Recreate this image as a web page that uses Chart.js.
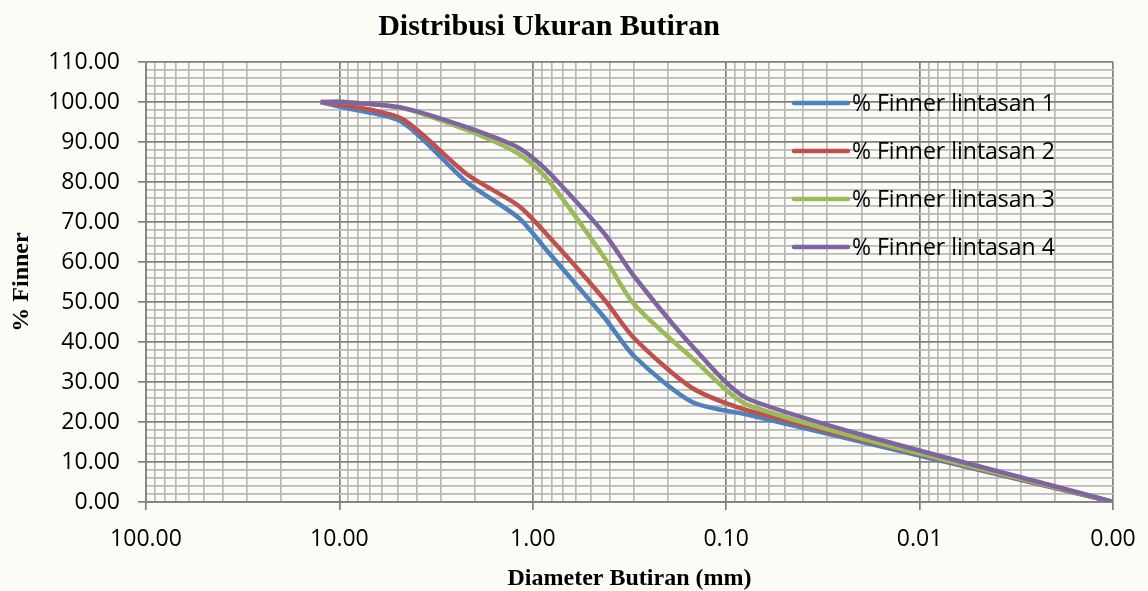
<!DOCTYPE html>
<html lang="id">
<head>
<meta charset="UTF-8">
<title>Distribusi Ukuran Butiran</title>
<script src="https://cdn.jsdelivr.net/npm/chart.js"></script>
<style>
  body { margin: 0; background: #fcfcf7; }
  .wrap { position: relative; width: 1148px; height: 591px; }
  .wrap canvas { position: absolute; left: 0; top: 0; }
  .judul {
    position: absolute; left: 0; top: 10px; width: 1098px; z-index: 2;
    text-align: center; color: #000;
    font: bold 30px "Liberation Serif", "Times New Roman", serif; line-height: 30px;
  }
</style>
</head>
<body>
<div class="wrap">
  <div class="judul">Distribusi Ukuran Butiran</div>
  <canvas id="grafik" width="1148" height="591"></canvas>
</div>

<script>
// diameter ayakan (mm) dan % lolos tiap lintasan
var diameter  = [12.5, 9.5, 4.75, 2.2, 1.18, 0.85, 0.425, 0.3, 0.15, 0.075, 0.001];
var lintasan1 = [100, 98.6, 95.0, 80.0, 71.0, 63.0, 46.0, 36.5, 25.0, 21.7, 0];
var lintasan2 = [100, 99.3, 95.8, 82.0, 74.0, 67.0, 50.5, 41.0, 28.5, 22.7, 0];
var lintasan3 = [100, 100, 98.5, 93.0, 87.0, 81.0, 61.0, 49.5, 36.0, 24.0, 0];
var lintasan4 = [100, 100, 98.6, 93.7, 88.5, 83.0, 67.0, 56.5, 39.0, 25.5, 0];

var nama_seri = ['% Finner lintasan 1', '% Finner lintasan 2', '% Finner lintasan 3', '% Finner lintasan 4'];
var warna = ['#4F81BD', '#C0504D', '#9BBB59', '#8064A2'];

// garis grid sumbu x: dekade dan 2..9 di tiap dekade
var x_dekade = [100, 10, 1, 0.1, 0.01, 0.001];
var x_pengali = [1, 2, 3, 4, 5, 6, 7, 8, 9];

var garis_utama = '#808080';
var garis_kecil = '#b9b9b9';

var x_grid = [];
x_dekade.slice(1).forEach(function (d) {
  x_pengali.forEach(function (m) { x_grid.push(Number((m * d).toPrecision(6))); });
});
x_grid.push(100);

function dekade(v) {
  var l = Math.log10(v);
  return Math.abs(l - Math.round(l)) < 1e-6;
}

var seri = [lintasan1, lintasan2, lintasan3, lintasan4];
var datasets = seri.map(function (s, i) {
  return {
    label: nama_seri[i],
    data: diameter.map(function (d, j) { return { x: d, y: s[j] }; }),
    borderColor: warna[i],
    backgroundColor: warna[i],
    borderWidth: 4.5,
    pointRadius: 0,
    fill: false,
    tension: 0.25,
    order: 4 - i
  };
});

// legenda di dalam area plot
const legendaDalam = {
  id: 'legendaDalam',
  afterDraw(chart) {
    const { ctx, chartArea } = chart;
    ctx.save();
    ctx.font = '23px "Open Sans"';
    ctx.textBaseline = 'middle';
    chart.data.datasets.forEach(function (ds, i) {
      const y = chartArea.top + 41 + i * 48;
      const x0 = chartArea.right - 319;
      ctx.strokeStyle = ds.borderColor;
      ctx.lineWidth = 4.5;
      ctx.lineCap = 'round';
      ctx.beginPath();
      ctx.moveTo(x0, y);
      ctx.lineTo(x0 + 54, y);
      ctx.stroke();
      ctx.fillStyle = '#000';
      ctx.fillText(ds.label, x0 + 58, y + 1);
    });
    ctx.restore();
  }
};

const fontAngka = { family: '"Open Sans"', size: 23 };

new Chart(document.getElementById('grafik'), {
  type: 'line',
  data: { datasets: datasets },
  plugins: [legendaDalam],
  options: {
    responsive: false,
    animation: false,
    layout: { padding: { top: 62, right: 35, left: 0, bottom: 0 } },
    plugins: {
      legend: { display: false },
      tooltip: { enabled: false }
    },
    scales: {
      x: {
        type: 'logarithmic',
        reverse: true,
        min: 0.001,
        max: 100,
        afterBuildTicks(scale) {
          scale.ticks = x_grid.map(function (v) { return { value: v }; });
        },
        afterFit(scale) { scale.height = 89; },
        ticks: {
          autoSkip: false,
          maxRotation: 0,
          padding: 16,
          color: '#000',
          font: fontAngka,
          callback: function (v) { return dekade(v) ? Number(v).toFixed(2) : ''; }
        },
        grid: {
          color: function (c) { return c.tick && dekade(c.tick.value) ? garis_utama : garis_kecil; },
          lineWidth: 1.7,
          tickLength: 8,
          tickColor: function (c) { return c.tick && dekade(c.tick.value) ? garis_utama : 'rgba(0,0,0,0)'; }
        },
        border: { color: garis_utama, width: 1.7 },
        title: {
          display: true,
          text: 'Diameter Butiran (mm)',
          color: '#000',
          font: { family: '"Liberation Serif"', size: 24, weight: 'bold', lineHeight: 1 },
          padding: 0
        }
      },
      y: {
        min: 0,
        max: 110,
        afterFit(scale) { scale.width = 146; },
        ticks: {
          stepSize: 2,
          autoSkip: false,
          padding: 18,
          color: '#000',
          font: fontAngka,
          callback: function (v) { return v % 10 === 0 ? v.toFixed(2) : ''; }
        },
        grid: {
          color: function (c) { return c.tick && c.tick.value % 10 === 0 ? garis_utama : garis_kecil; },
          lineWidth: 1.7,
          tickLength: 8,
          tickColor: function (c) { return c.tick && c.tick.value % 10 === 0 ? garis_utama : 'rgba(0,0,0,0)'; }
        },
        border: { color: garis_utama, width: 1.7 },
        title: {
          display: true,
          text: '% Finner',
          color: '#000',
          font: { family: '"Liberation Serif"', size: 24, weight: 'bold' },
          padding: { top: 7, bottom: 0 }
        }
      }
    }
  }
});
</script>
</body>
</html>
